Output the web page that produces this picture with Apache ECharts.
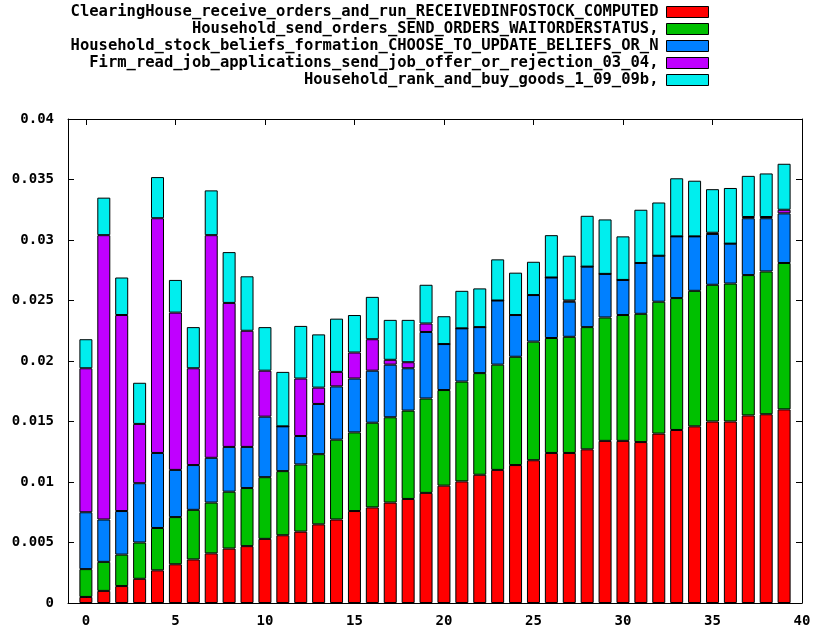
<!DOCTYPE html>
<html>
<head>
<meta charset="utf-8">
<script src="https://cdn.jsdelivr.net/npm/echarts@6/dist/echarts.min.js"></script>
<style>
html,body{margin:0;padding:0;background:#fff;}
#chart{width:816px;height:632px;}
</style>
</head>
<body>
<div id="chart"></div>
<script>
// x positions of the bars
var categories = [0,1,2,3,4,5,6,7,8,9,10,11,12,13,14,15,16,17,18,19,20,21,22,23,24,25,26,27,28,29,30,31,32,33,34,35,36,37,38,39];

var seriesNames = [
  "ClearingHouse_receive_orders_and_run_RECEIVEDINFOSTOCK_COMPUTED",
  "Household_send_orders_SEND_ORDERS_WAITORDERSTATUS,",
  "Household_stock_beliefs_formation_CHOOSE_TO_UPDATE_BELIEFS_OR_N",
  "Firm_read_job_applications_send_job_offer_or_rejection_03_04,",
  "Household_rank_and_buy_goods_1_09_09b,"
];

var clearingHouse = [0.0005,0.0010,0.0014,0.0020,0.0027,0.0032,0.0036,0.0041,0.0045,0.0047,
  0.0053,0.0056,0.0059,0.0065,0.0069,0.0076,0.0079,0.0083,0.0086,0.0091,
  0.0097,0.01005,0.0106,0.0110,0.0114,0.0118,0.0124,0.0124,0.0127,0.0134,
  0.0134,0.0133,0.0140,0.0143,0.0146,0.0150,0.0150,0.0155,0.0156,0.0160];

var sendOrders = [0.0023,0.0024,0.0026,0.0030,0.0035,0.0039,0.0041,0.0042,0.0047,0.0048,
  0.0051,0.0053,0.00555,0.0058,0.0066,0.0065,0.0070,0.00705,0.0073,0.0078,
  0.0079,0.00825,0.0084,0.0087,0.00895,0.0098,0.0095,0.0096,0.0101,0.0102,
  0.0104,0.0106,0.0109,0.0109,0.0112,0.0113,0.0114,0.0116,0.0118,0.0121];

var stockBeliefs = [0.0047,0.0035,0.0036,0.0049,0.0062,0.0039,0.0037,0.0037,0.0037,0.0034,
  0.0050,0.0037,0.00235,0.00415,0.0044,0.00445,0.0043,0.00435,0.0035,0.0055,
  0.0038,0.0044,0.0038,0.0053,0.00345,0.00385,0.0050,0.0029,0.0050,0.0036,
  0.0029,0.0042,0.0038,0.0051,0.0045,0.0042,0.0033,0.0047,0.0044,0.0041];

var jobApplications = [0.0119,0.0235,0.0162,0.0049,0.0194,0.0130,0.0080,0.0184,0.0119,0.0096,
  0.0038,0,0.00475,0.00135,0.0012,0.00215,0.0026,0.0004,0.0005,0.0007,
  0,0,0,0,0,0,0,0.0001,0,0,
  0,0,0,0,0,0.0001,0,0.0001,0.0001,0.0003];

var buyGoods = [0.0024,0.0031,0.0031,0.0034,0.0034,0.0027,0.0034,0.0037,0.0042,0.0045,
  0.0036,0.0045,0.00435,0.0044,0.0044,0.0031,0.0035,0.0033,0.0035,0.0032,
  0.0023,0.0031,0.0032,0.0034,0.0035,0.00275,0.0035,0.0037,0.0042,0.0045,
  0.0036,0.0044,0.0044,0.0048,0.0046,0.0036,0.0046,0.0034,0.0036,0.0038];

var xTicks = [0,5,10,15,20,25,30,35,40];
var xMin = -1, xMax = 40;
var colors = ["#ff0000","#00c000","#0080ff","#c000ff","#00eeee"];
var allValues = [clearingHouse, sendOrders, stockBeliefs, jobApplications, buyGoods];

var FONT = "DejaVu Sans Mono";

// hidden category axis spanning xMin..xMax, one slot per integer, so bars stack by position
var slots = [];
for (var s = xMin; s <= xMax; s++) slots.push(String(s));

var series = allValues.map(function(vals, k){
  var data = slots.map(function(){ return null; });
  categories.forEach(function(c, i){ data[c - xMin] = vals[i]; });
  return {
    name: seriesNames[k],
    type: 'bar',
    stack: 'total',
    barWidth: 13,
    xAxisIndex: 2,
    yAxisIndex: 0,
    itemStyle: {color: colors[k], borderColor: '#000', borderWidth: 1},
    emphasis: {disabled: true},
    data: data
  };
});

var legends = seriesNames.map(function(n, k){
  return {
    data: [n],
    orient: 'vertical',
    align: 'right',
    right: 107,
    top: 4 + 17*k,
    itemWidth: 42,
    itemHeight: 11,
    padding: 0,
    selectedMode: false,
    icon: 'rect',
    itemStyle: {borderColor: '#000', borderWidth: 1},
    textStyle: {fontFamily: FONT, fontWeight: 'bold', fontSize: 15.5, color: '#000', padding: [0, 3, 0, 0]}
  };
});

var axisLine = {show: true, onZero: false, lineStyle: {color: '#000', width: 1}};
var tickLine = {color: '#000', width: 1};

var option = {
  animation: false,
  backgroundColor: '#fff',
  legend: legends,
  grid: {left: 68, right: 14, top: 119, bottom: 29, containLabel: false},
  xAxis: [{
    type: 'value', min: xMin, max: xMax, position: 'bottom',
    axisLine: axisLine,
    axisTick: {show: true, inside: true, length: 6, customValues: xTicks, lineStyle: tickLine},
    axisLabel: {customValues: xTicks, margin: 11, fontFamily: FONT, fontWeight: 'bold', fontSize: 14, color: '#000'},
    splitLine: {show: false}
  }, {
    type: 'value', min: xMin, max: xMax, position: 'top',
    axisLine: axisLine,
    axisTick: {show: true, inside: true, length: 6, customValues: xTicks, lineStyle: tickLine},
    axisLabel: {show: false, customValues: xTicks},
    splitLine: {show: false}
  }, {
    type: 'category', data: slots, boundaryGap: false, show: false,
    position: 'bottom'
  }],
  yAxis: [{
    type: 'value', min: 0, max: 0.04, interval: 0.005, position: 'left',
    axisLine: axisLine,
    axisTick: {show: true, inside: true, length: 6, lineStyle: tickLine},
    axisLabel: {margin: 14, fontFamily: FONT, fontWeight: 'bold', fontSize: 14, color: '#000'},
    splitLine: {show: false}
  }, {
    type: 'value', min: 0, max: 0.04, interval: 0.005, position: 'right',
    axisLine: axisLine,
    axisTick: {show: true, inside: true, length: 6, lineStyle: tickLine},
    axisLabel: {show: false},
    splitLine: {show: false}
  }],
  series: series
};

var chart = echarts.init(document.getElementById('chart'), null, {renderer: 'canvas'});
chart.setOption(option);
</script>
</body>
</html>
